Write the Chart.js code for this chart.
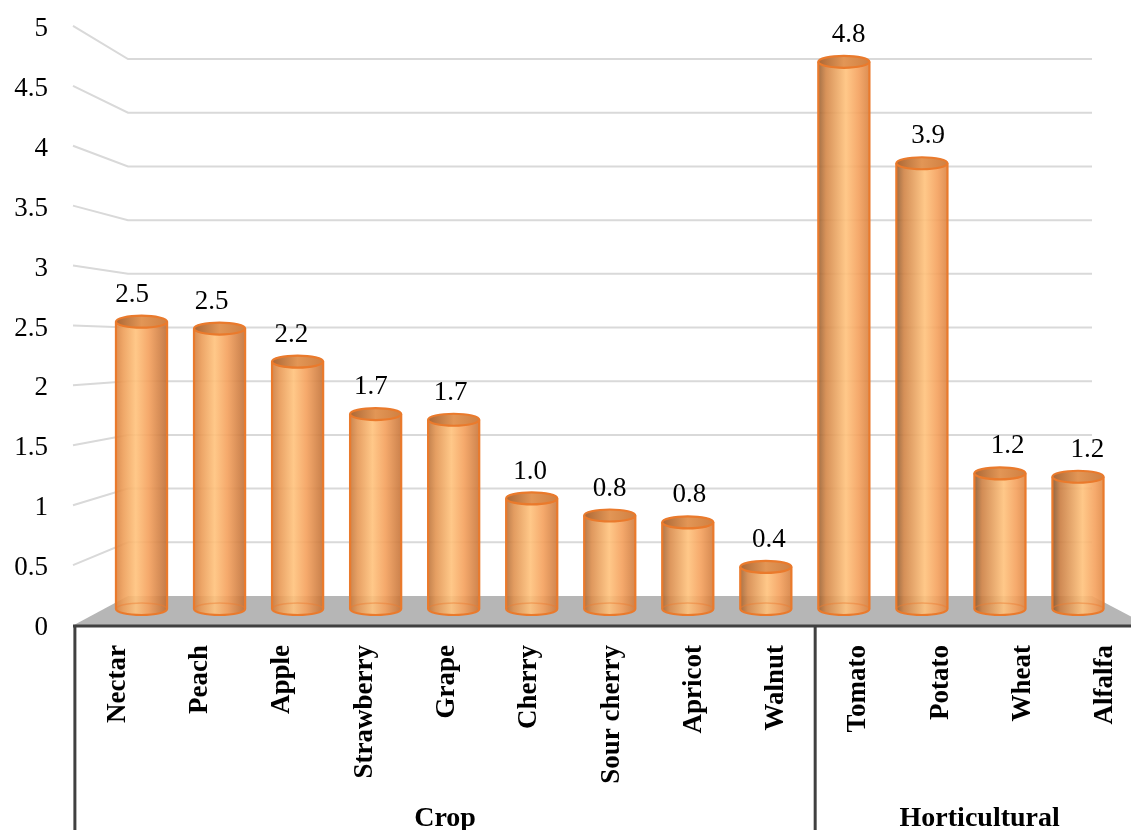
<!DOCTYPE html>
<html>
<head>
<meta charset="utf-8">
<script src="https://cdn.jsdelivr.net/npm/chart.js@4.4.1/dist/chart.umd.min.js"></script>
<style>
  html, body { margin: 0; padding: 0; background: #ffffff; }
  canvas { display: block; }
</style>
</head>
<body>
<canvas id="chart" width="1131" height="830"></canvas>
<script>
// Crop and horticultural values
const categories = ['Nectar', 'Peach', 'Apple', 'Strawberry', 'Grape', 'Cherry', 'Sour cherry',
                    'Apricot', 'Walnut', 'Tomato', 'Potato', 'Wheat', 'Alfalfa'];
const values = [2.52, 2.46, 2.17, 1.71, 1.66, 0.97, 0.82, 0.76, 0.37, 4.80, 3.91, 1.19, 1.16];
const groupNames = ['Crop', 'Horticultural'];
const groupSizes = [9, 4];
const yTickValues = [0, 0.5, 1, 1.5, 2, 2.5, 3, 3.5, 4, 4.5, 5];

const SERIF = '"Liberation Serif", "Times New Roman", serif';

// 3D view: the bars stand on a middle plane; the front edge and the back wall
// are the same plane scaled out / in around it.
const FRONT = { x0: 141.5, xs: 1.054, xo: 116, y0: 609, ys: 1.051, yo: 625 };
const frontX = x => FRONT.xo + (x - FRONT.x0) * FRONT.xs;
const frontY = y => FRONT.yo + (y - FRONT.y0) * FRONT.ys;
const backY = y => 596 + (y - 609) * 0.942;
const WALL = { left: 128, right: 1092, floorBack: 596, floorFront: 625 };

const mix = (a, b, t) => a.map((v, i) => Math.round(v + (b[i] - v) * t));
const rgba = (c, a) => `rgba(${c[0]},${c[1]},${c[2]},${a})`;

// lighting shifts across the row: bars further right show more of their shaded left side
function bodyGradient(ctx, x0, x1, t) {
  const g = ctx.createLinearGradient(x0, 0, x1, 0);
  const leftEdge = mix([222, 134, 66], [128, 84, 46], t);
  const leftMid = mix([240, 160, 90], [200, 124, 64], t);
  const rightEdge = mix([188, 108, 52], [226, 138, 70], t);
  const hi = 0.38 + 0.22 * t;
  g.addColorStop(0, rgba(leftEdge, 0.9));
  g.addColorStop(0.15, rgba(leftMid, 0.9));
  g.addColorStop(hi, rgba([255, 194, 124], 0.9));
  g.addColorStop(Math.min(0.95, hi + 0.25), rgba([244, 160, 92], 0.9));
  g.addColorStop(1, rgba(rightEdge, 0.9));
  return g;
}

function capGradient(ctx, x0, x1) {
  const g = ctx.createLinearGradient(x0, 0, x1, 0);
  g.addColorStop(0, 'rgb(172,104,54)');
  g.addColorStop(0.5, 'rgb(226,150,86)');
  g.addColorStop(1, 'rgb(208,128,66)');
  return g;
}

const scene3d = {
  id: 'scene3d',
  beforeDatasetsDraw(chart) {
    const ctx = chart.ctx;
    const ys = chart.scales.y;
    ctx.save();
    // floor
    ctx.beginPath();
    ctx.moveTo(74, WALL.floorFront);
    ctx.lineTo(WALL.left, WALL.floorBack);
    ctx.lineTo(WALL.right, WALL.floorBack);
    ctx.lineTo(WALL.right + 55, WALL.floorFront);
    ctx.closePath();
    ctx.fillStyle = '#b6b6b6';
    ctx.fill();
    // gridlines on the side and back walls
    ctx.strokeStyle = '#d9d9d9';
    ctx.lineWidth = 2;
    yTickValues.forEach(v => {
      if (v === 0) return;
      const p = ys.getPixelForValue(v);
      ctx.beginPath();
      ctx.moveTo(73, frontY(p));
      ctx.lineTo(WALL.left, backY(p));
      ctx.lineTo(WALL.right, backY(p));
      ctx.stroke();
    });
    // value axis labels
    ctx.fillStyle = '#000000';
    ctx.font = '27px ' + SERIF;
    ctx.textAlign = 'right';
    ctx.textBaseline = 'middle';
    yTickValues.forEach(v => {
      const p = ys.getPixelForValue(v);
      ctx.fillText(String(v), 48, frontY(p) + 3);
    });
    ctx.restore();
  },
  afterDatasetsDraw(chart) {
    const ctx = chart.ctx;
    const meta = chart.getDatasetMeta(0);
    const xs = chart.scales.x;
    const area = chart.chartArea;
    ctx.save();
    // cylinders
    meta.data.forEach((el, i) => {
      const cx = el.x, rx = el.width / 2, ry = 6;
      const top = el.y, base = el.base;
      const t = (cx - area.left) / (area.right - area.left);
      ctx.beginPath();
      ctx.moveTo(cx - rx, top);
      ctx.lineTo(cx - rx, base);
      ctx.ellipse(cx, base, rx, ry, 0, Math.PI, 0, true);
      ctx.lineTo(cx + rx, top);
      ctx.ellipse(cx, top, rx, ry, 0, 0, Math.PI, false);
      ctx.closePath();
      ctx.fillStyle = bodyGradient(ctx, cx - rx, cx + rx, t);
      ctx.fill();
      // hidden back half of the base, seen through the body
      ctx.beginPath();
      ctx.ellipse(cx, base, rx, ry, 0, Math.PI, 0, false);
      ctx.strokeStyle = 'rgba(237,125,49,0.45)';
      ctx.lineWidth = 1.5;
      ctx.stroke();
      // outline
      ctx.beginPath();
      ctx.moveTo(cx - rx, top);
      ctx.lineTo(cx - rx, base);
      ctx.ellipse(cx, base, rx, ry, 0, Math.PI, 0, true);
      ctx.lineTo(cx + rx, top);
      ctx.strokeStyle = '#ea7a2c';
      ctx.lineWidth = 2.2;
      ctx.stroke();
      // top cap
      ctx.beginPath();
      ctx.ellipse(cx, top, rx, ry, 0, 0, Math.PI * 2);
      ctx.fillStyle = capGradient(ctx, cx - rx, cx + rx);
      ctx.fill();
      ctx.stroke();
      // value label
      ctx.fillStyle = '#000000';
      ctx.font = '27px ' + SERIF;
      ctx.textAlign = 'center';
      ctx.textBaseline = 'middle';
      ctx.fillText(values[i].toFixed(1), cx + (cx - 610) * 0.02, top - 27);
    });

    // category axis
    const catW = (area.right - area.left) / categories.length;
    ctx.strokeStyle = '#404040';
    ctx.lineWidth = 3;
    ctx.beginPath();
    ctx.moveTo(73, 626);
    ctx.lineTo(1131, 626);
    ctx.stroke();
    const bounds = [area.left];
    let k = 0;
    groupSizes.forEach(n => { k += n; bounds.push(area.left + k * catW); });
    bounds.forEach(b => {
      const fx = frontX(b);
      ctx.beginPath();
      ctx.moveTo(fx, 626);
      ctx.lineTo(fx, 830);
      ctx.stroke();
    });

    ctx.fillStyle = '#000000';
    ctx.font = 'bold 27px ' + SERIF;
    ctx.textAlign = 'right';
    ctx.textBaseline = 'middle';
    categories.forEach((c, i) => {
      const x = frontX(xs.getPixelForValue(i));
      ctx.save();
      ctx.translate(x + 2, 645);
      ctx.rotate(-Math.PI / 2);
      ctx.fillText(c, 0, 0);
      ctx.restore();
    });

    ctx.font = 'bold 28px ' + SERIF;
    ctx.textAlign = 'center';
    ctx.textBaseline = 'alphabetic';
    groupNames.forEach((g, j) => {
      const x = (frontX(bounds[j]) + frontX(bounds[j + 1])) / 2;
      ctx.fillText(g, x, 826);
    });
    ctx.restore();
  }
};

new Chart(document.getElementById('chart'), {
  type: 'bar',
  data: {
    labels: categories,
    datasets: [{
      data: values,
      backgroundColor: 'rgba(0,0,0,0)',
      borderWidth: 0,
      categoryPercentage: 1,
      barPercentage: 0.655
    }]
  },
  options: {
    responsive: false,
    animation: false,
    devicePixelRatio: 1,
    layout: { padding: { left: 102.5, right: 14, top: 39, bottom: 221 } },
    plugins: { legend: { display: false }, tooltip: { enabled: false } },
    scales: {
      x: { display: false },
      y: { display: false, min: 0, max: 5 }
    }
  },
  plugins: [scene3d]
});
</script>
</body>
</html>
